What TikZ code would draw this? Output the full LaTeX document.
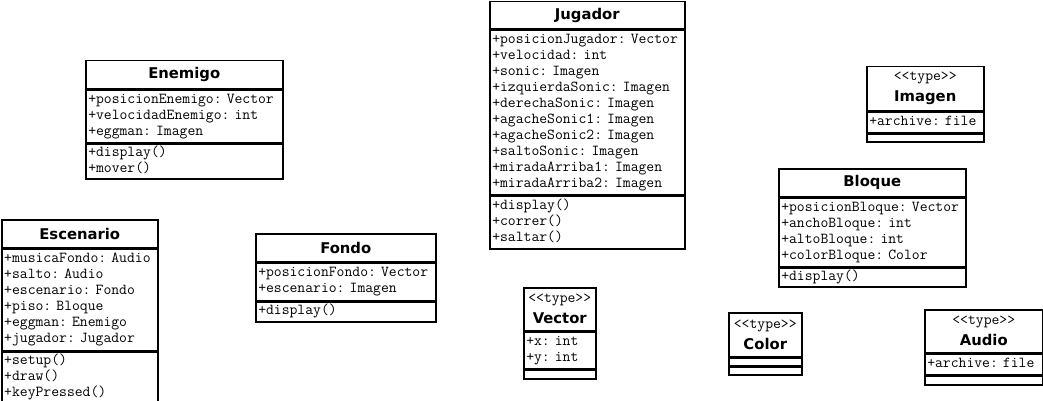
\documentclass[tikz,border=0pt]{standalone}
\usepackage{fontspec}
\setsansfont{DejaVu Sans}
\setmonofont{Latin Modern Mono}[WordSpace={1,0,0}]
\usetikzlibrary{positioning}
\newcommand{\titlefont}{\fontsize{14.8}{21}\selectfont\sffamily\bfseries}
\newcommand{\memberfont}{\fontsize{15.24}{16}\selectfont\ttfamily\frenchspacing\spaceskip=0.525em\relax}
\newcommand{\stereofont}{\fontsize{15.24}{16}\selectfont\mdseries\ttfamily}
\tikzset{
  classtitle/.style={draw, line width=1.5pt, inner sep=0pt, minimum width=#1, minimum height=28pt, font=\titlefont, align=center},
  typetitle/.style={classtitle=#1, minimum height=44pt},
  classpart/.style={draw, line width=1.5pt, inner xsep=2.5pt, inner ysep=0pt, text width=#1, align=left, font=\memberfont, execute at begin node=\strut, execute at end node=\strut},
  emptypart/.style={draw, line width=1.5pt, inner sep=0pt, minimum width=#1, minimum height=8pt},
}
\begin{document}
\begin{tikzpicture}[x=1pt, y=-1pt]
\useasboundingbox (0,0) rectangle (1043,401);
% Enemigo
\node[classtitle=197pt, anchor=north west] (enemigo) at (85,60) {Enemigo};
\node[classpart=192pt, minimum height=52pt, below=0pt of enemigo] (enemigoAttr) {+posicionEnemigo:~Vector\\+velocidadEnemigo:~int\\+eggman:~Imagen};
\node[classpart=192pt, minimum height=35pt, below=0pt of enemigoAttr] (enemigoOps) {+display()\\+mover()};
% Escenario
\node[classtitle=156pt, anchor=north west] (escenario) at (1,219) {Escenario};
\node[classpart=151pt, minimum height=101pt, below=0pt of escenario] (escenarioAttr) {+musicaFondo:~Audio\\+salto:~Audio\\+escenario:~Fondo\\+piso:~Bloque\\+eggman:~Enemigo\\+jugador:~Jugador};
\node[classpart=151pt, minimum height=52pt, below=0pt of escenarioAttr] (escenarioOps) {+setup()\\+draw()\\+keyPressed()};
% Fondo
\node[classtitle=180pt, anchor=north west] (fondo) at (255,233) {Fondo};
\node[classpart=175pt, minimum height=37pt, below=0pt of fondo] (fondoAttr) {+posicionFondo:~Vector\\+escenario:~Imagen};
\node[classpart=175pt, minimum height=20pt, below=0pt of fondoAttr] (fondoOps) {+display()};
% Jugador
\node[classtitle=195pt, minimum height=27pt, anchor=north west] (jugador) at (489,1) {Jugador};
\node[classpart=190pt, minimum height=164pt, below=0pt of jugador] (jugadorAttr) {+posicionJugador:~Vector\\+velocidad:~int\\+sonic:~Imagen\\+izquierdaSonic:~Imagen\\+derechaSonic:~Imagen\\+agacheSonic1:~Imagen\\+agacheSonic2:~Imagen\\+saltoSonic:~Imagen\\+miradaArriba1:~Imagen\\+miradaArriba2:~Imagen};
\node[classpart=190pt, minimum height=53pt, below=0pt of jugadorAttr] (jugadorOps) {+display()\\+correr()\\+saltar()};
% Imagen
\node[typetitle=117pt, anchor=north west] (imagen) at (866,66) {{\stereofont <<type>>}\\Imagen};
\node[classpart=112pt, minimum height=20pt, below=0pt of imagen] (imagenAttr) {+archive:~file};
\node[emptypart=117pt, below=0pt of imagenAttr] (imagenOps) {};
% Bloque
\node[classtitle=187pt, anchor=north west] (bloque) at (778,168) {Bloque};
\node[classpart=182pt, minimum height=68pt, below=0pt of bloque] (bloqueAttr) {+posicionBloque:~Vector\\+anchoBloque:~int\\+altoBloque:~int\\+colorBloque:~Color};
\node[classpart=182pt, minimum height=19pt, below=0pt of bloqueAttr] (bloqueOps) {+display()};
% Vector
\node[typetitle=72pt, minimum height=43pt, anchor=north west] (vector) at (523,287) {{\stereofont <<type>>}\\Vector};
\node[classpart=67pt, minimum height=36pt, below=0pt of vector] (vectorAttr) {+x:~int\\+y:~int};
\node[emptypart=72pt, minimum height=9pt, below=0pt of vectorAttr] (vectorOps) {};
% Color
\node[typetitle=73pt, anchor=north west] (color) at (728,312) {{\stereofont <<type>>}\\Color};
\node[emptypart=73pt, minimum height=7pt, below=0pt of color] (colorAttr) {};
\node[emptypart=73pt, below=0pt of colorAttr] (colorOps) {};
% Audio
\node[typetitle=118pt, minimum height=43pt, anchor=north west] (audio) at (924,309) {{\stereofont <<type>>}\\Audio};
\node[classpart=113pt, minimum height=20pt, below=0pt of audio] (audioAttr) {+archive:~file};
\node[emptypart=118pt, minimum height=9pt, below=0pt of audioAttr] (audioOps) {};
\end{tikzpicture}
\end{document}
